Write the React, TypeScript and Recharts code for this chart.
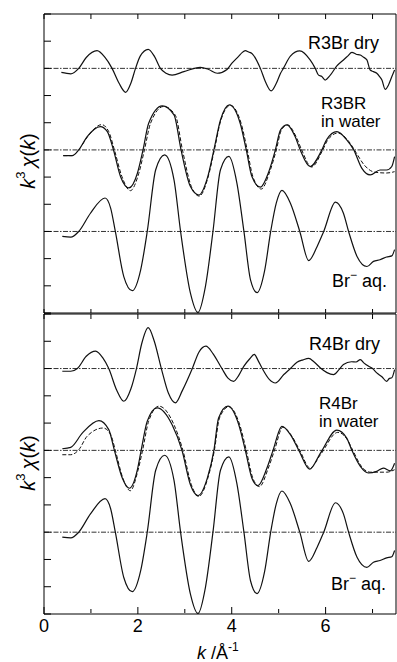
import React from 'react';
import { LineChart, Line, XAxis, YAxis, ReferenceLine } from 'recharts';

type Pt = [number, number];

// k axis ticks
const K_ALL = [0, 1, 2, 3, 4, 5, 6, 7];
const K_MAJOR = [0, 2, 4, 6];
const K_MINOR = [1, 3, 5, 7];
// y in tick units, curves stacked on offsets
const Y_TICKS = [0, 1, 2, 3, 4, 5, 6, 7, 8, 9, 10, 11];
const OFFSETS = [9, 6, 3];

// values read relative to each curve's own zero line, 1 = one tick interval
const r3BrDry: Pt[] = [
  [0.37, -0.15], [0.57, -0.2], [0.74, 0], [0.9, 0.4], [1.13, 0.65], [1.3, 0.4], [1.45, 0],
  [1.6, -0.55], [1.74, -0.88], [1.85, -0.55], [1.95, 0], [2.05, 0.45], [2.22, 0.7], [2.35, 0.45],
  [2.48, 0], [2.6, -0.18], [2.73, -0.25], [2.98, -0.12], [3.33, 0.04], [3.51, -0.04], [3.69, -0.18],
  [3.9, -0.04], [4.0, 0.18], [4.15, 0.45], [4.22, 0.58], [4.29, 0.65], [4.36, 0.6], [4.43, 0.55],
  [4.61, 0], [4.72, -0.5], [4.84, -0.83], [4.95, -0.55], [5.04, -0.18], [5.1, 0], [5.25, 0.45],
  [5.45, 0.64], [5.67, 0.31], [5.78, 0], [5.85, -0.25], [5.92, -0.3], [5.99, -0.43], [6.1, -0.25],
  [6.24, 0.09], [6.38, 0.31], [6.47, 0.45], [6.56, 0.59], [6.65, 0.52], [6.74, 0.49], [6.8, 0.42],
  [6.88, 0.31], [6.95, -0.06], [7.02, -0.12], [7.09, -0.18], [7.15, -0.3], [7.2, -0.43],
  [7.27, -0.77], [7.34, -0.61], [7.41, -0.31], [7.47, -0.06],
];

const r3BrWater: Pt[] = [
  [0.41, -0.21], [0.6, -0.21], [0.74, 0], [0.92, 0.49], [1.2, 0.86], [1.35, 0.67], [1.48, 0],
  [1.63, -0.98], [1.81, -1.4], [1.99, -0.86], [2.11, 0], [2.23, 0.98], [2.52, 1.62], [2.77, 1.29],
  [2.92, 0], [3.12, -1.35], [3.3, -1.66], [3.48, -1.04], [3.62, 0], [3.76, 1.1], [3.95, 1.66],
  [4.18, 0.98], [4.31, 0], [4.43, -0.98], [4.61, -1.37], [4.79, -0.8], [4.93, 0], [5.04, 0.74],
  [5.18, 0.92], [5.35, 0.49], [5.46, 0], [5.67, -0.61], [5.92, 0], [6.02, 0.37], [6.24, 0.67],
  [6.45, 0.37], [6.6, 0], [6.77, -0.67], [6.95, -0.92], [7.16, -0.74], [7.3, -0.74],
  [7.41, -0.61], [7.47, -0.25],
];

const r3BrFit: Pt[] = [
  [0.41, -0.21], [0.6, -0.21], [0.74, 0], [0.93, 0.49], [1.23, 0.93], [1.38, 0.67], [1.5, 0],
  [1.66, -0.98], [1.84, -1.5], [2.02, -0.86], [2.14, 0], [2.27, 0.98], [2.55, 1.6], [2.8, 1.27],
  [2.95, 0], [3.14, -1.35], [3.31, -1.7], [3.49, -1.04], [3.63, 0], [3.77, 1.1], [3.97, 1.64],
  [4.2, 0.98], [4.33, 0], [4.45, -0.98], [4.63, -1.44], [4.81, -0.8], [4.95, 0], [5.06, 0.74],
  [5.19, 0.92], [5.37, 0.49], [5.49, 0], [5.7, -0.63], [5.94, 0], [6.04, 0.35], [6.26, 0.62],
  [6.5, 0.3], [6.65, -0.1], [6.82, -0.55], [7.05, -0.82], [7.3, -0.85], [7.47, -0.8],
];

const brAq: Pt[] = [
  [0.39, -0.18], [0.57, -0.21], [0.74, 0], [0.99, 0.67], [1.3, 1.23], [1.42, 0.86], [1.52, 0],
  [1.7, -1.66], [1.88, -2.18], [2.06, -1.41], [2.2, 0], [2.38, 2.27], [2.57, 2.82], [2.77, 1.9],
  [2.91, 0], [3.12, -2.27], [3.28, -2.98], [3.44, -2.02], [3.6, 0], [3.76, 2.27], [3.94, 2.76],
  [4.11, 1.78], [4.26, 0], [4.4, -1.78], [4.54, -2.25], [4.7, -1.45], [4.83, 0], [4.95, 1.05],
  [5.07, 1.51], [5.25, 1.04], [5.45, 0], [5.64, -1.07], [5.82, -0.55], [5.96, 0], [6.21, 1.08],
  [6.38, 0.67], [6.49, 0], [6.67, -0.92], [6.88, -1.29], [7.02, -1.1], [7.16, -1.04],
  [7.3, -0.94], [7.41, -0.9], [7.47, -0.67],
];

const r4BrDry: Pt[] = [
  [0.39, -0.1], [0.57, -0.1], [0.71, 0], [0.9, 0.45], [1.1, 0.64], [1.25, 0.4], [1.38, 0],
  [1.55, -0.8], [1.7, -1.2], [1.85, -0.75], [1.97, 0], [2.08, 0.9], [2.22, 1.5], [2.35, 1.0],
  [2.5, 0], [2.65, -0.9], [2.8, -1.26], [2.95, -0.8], [3.16, 0], [3.3, 0.6], [3.45, 0.82],
  [3.6, 0.55], [3.79, 0], [3.92, -0.35], [4.04, -0.47], [4.15, -0.25], [4.26, 0.09], [4.38, 0.35],
  [4.48, 0.52], [4.56, 0.3], [4.65, 0], [4.8, -0.4], [4.93, -0.53], [5.11, -0.22], [5.25, 0],
  [5.39, 0.23], [5.52, 0.32], [5.64, 0.37], [5.75, 0.25], [5.89, 0.02], [6.03, -0.15],
  [6.17, -0.22], [6.28, -0.05], [6.38, 0.15], [6.55, 0.25], [6.65, 0.24], [6.74, 0.33],
  [6.82, 0.2], [6.91, 0.09], [7.0, 0.0], [7.09, -0.16], [7.2, -0.3], [7.3, -0.47], [7.36, -0.36],
  [7.41, -0.34], [7.47, -0.04],
];

const r4BrWater: Pt[] = [
  [0.39, 0.06], [0.57, 0.11], [0.82, 0.64], [1.17, 1.09], [1.38, 0.76], [1.5, 0], [1.67, -1.02],
  [1.82, -1.39], [1.99, -0.71], [2.07, 0], [2.2, 1.07], [2.41, 1.56], [2.73, 0.94], [2.94, 0],
  [3.12, -1.26], [3.28, -1.66], [3.48, -1.02], [3.62, 0], [3.72, 1.19], [3.92, 1.62], [4.15, 0.94],
  [4.29, 0], [4.43, -1.02], [4.56, -1.29], [4.75, -0.65], [4.88, 0], [5.07, 0.88], [5.25, 0.58],
  [5.43, 0], [5.66, -0.69], [5.89, -0.1], [6.24, 0.74], [6.45, 0.45], [6.56, 0], [6.74, -0.59],
  [6.91, -0.83], [7.09, -0.77], [7.23, -0.65], [7.38, -0.75], [7.47, -0.47],
];

const r4BrFit: Pt[] = [
  [0.39, -0.16], [0.57, -0.16], [0.74, 0.02], [0.92, 0.52], [1.26, 0.82], [1.42, 0.58], [1.52, 0],
  [1.68, -1.02], [1.84, -1.48], [2.0, -0.75], [2.1, 0], [2.23, 1.07], [2.45, 1.62], [2.77, 0.94],
  [2.96, 0], [3.14, -1.26], [3.3, -1.69], [3.49, -1.02], [3.63, 0], [3.74, 1.19], [3.94, 1.6],
  [4.17, 0.94], [4.31, 0], [4.45, -1.02], [4.59, -1.33], [4.78, -0.65], [4.91, 0], [5.09, 0.85],
  [5.27, 0.55], [5.45, 0], [5.67, -0.65], [5.89, -0.16], [6.26, 0.66], [6.46, 0.4], [6.58, 0],
  [6.76, -0.58], [6.95, -0.8], [7.3, -0.8], [7.47, -0.71],
];

const FONT = '"Liberation Sans", Arial, sans-serif';
const toRows = (pts: Pt[], off: number) => pts.map(([k, v]) => ({ k, v: v + off }));
// tick marks only, no tick text
const noText = () => <g />;

type PanelProps = { top: number; bottom: number; dry: Pt[]; water: Pt[]; fit: Pt[]; withLabels?: boolean };

function Panel({ top, bottom, dry, water, fit, withLabels }: PanelProps) {
  const lineProps = { xAxisId: 'b', yAxisId: 'l', dataKey: 'v', type: 'monotone' as const, dot: false, isAnimationActive: false, stroke: '#111', strokeWidth: 1.2 };
  const tl = { stroke: '#000' };
  return (
    <div style={{ position: 'absolute', left: 0, top: 0 }}>
      <LineChart width={397} height={662} margin={{ top, right: 1, bottom, left: 44 }}>
        <XAxis xAxisId="b" type="number" dataKey="k" domain={[0, 7.5]} allowDataOverflow ticks={withLabels ? K_MAJOR : K_ALL} interval={0}
          orientation="bottom" mirror height={1} tick={noText} tickLine={tl} tickSize={withLabels ? 7 : 4} stroke="#000" />
        {withLabels && (
          <XAxis xAxisId="bm" type="number" dataKey="k" domain={[0, 7.5]} allowDataOverflow ticks={K_MINOR} interval={0}
            orientation="bottom" mirror height={1} tick={noText} tickLine={tl} tickSize={4} axisLine={false} stroke="#000" />
        )}
        {withLabels && (
          <XAxis xAxisId="lab" type="number" dataKey="k" domain={[0, 7.5]} allowDataOverflow ticks={K_MAJOR} interval={0}
            orientation="bottom" height={30} axisLine={false} tickLine={false} tickSize={3} tickMargin={2}
            tick={{ fontSize: 18, fill: '#000', fontFamily: FONT }} />
        )}
        <XAxis xAxisId="t" type="number" dataKey="k" domain={[0, 7.5]} allowDataOverflow ticks={K_ALL} interval={0}
          orientation="top" mirror tick={noText} tickLine={tl} tickSize={5} stroke="#000" />
        <YAxis yAxisId="l" type="number" domain={[0, 11]} ticks={Y_TICKS} interval={0} orientation="left" mirror tick={noText} tickLine={tl} tickSize={7} stroke="#000" />
        <YAxis yAxisId="r" type="number" domain={[0, 11]} ticks={Y_TICKS} interval={0} orientation="right" mirror tick={noText} tickLine={tl} tickSize={6} stroke="#000" />
        {OFFSETS.map((o) => (
          <ReferenceLine key={o} xAxisId="b" yAxisId="l" y={o} stroke="#333" strokeWidth={1} strokeDasharray="5 1.5 1.5 1.5" />
        ))}
        <Line {...lineProps} data={toRows(dry, 9)} />
        <Line {...lineProps} data={toRows(fit, 6)} strokeDasharray="4 2" strokeWidth={1} />
        <Line {...lineProps} data={toRows(water, 6)} />
        <Line {...lineProps} data={toRows(brAq, 3)} />
      </LineChart>
    </div>
  );
}

function YLabel({ cy }: { cy: number }) {
  return (
    <text transform={`translate(28,${cy}) rotate(-90)`} textAnchor="middle" dominantBaseline="central" fontSize={20}>
      <tspan fontStyle="italic">k</tspan>
      <tspan dy={-8} fontSize={13}>3</tspan>
      <tspan dy={8} fontStyle="italic">{'\u2009χ'}</tspan>
      <tspan>(</tspan>
      <tspan fontStyle="italic">k</tspan>
      <tspan>)</tspan>
    </text>
  );
}

function BrAq({ x, y }: { x: number; y: number }) {
  return (
    <text x={x} y={y}>
      Br<tspan dy={-8} fontSize={12}>−</tspan><tspan dy={8}> aq.</tspan>
    </text>
  );
}

export default function App() {
  return (
    <div style={{ position: 'absolute', left: 0, top: 0, width: 397, height: 662, background: '#fff', fontFamily: FONT }}>
      <Panel top={14} bottom={349} dry={r3BrDry} water={r3BrWater} fit={r3BrFit} />
      <Panel top={314} bottom={18} dry={r4BrDry} water={r4BrWater} fit={r4BrFit} withLabels />
      <svg width={397} height={662} style={{ position: 'absolute', left: 0, top: 0, pointerEvents: 'none' }} fontFamily={FONT} fontSize={18} fill="#000">
        <text x={379} y={49} textAnchor="end">R3Br dry</text>
        <text x={321} y={109} fontSize={17}>R3BR</text>
        <text x={321} y={127} fontSize={17}>in water</text>
        <BrAq x={332} y={287} />
        <text x={380} y={350} textAnchor="end">R4Br dry</text>
        <text x={319} y={409} fontSize={17}>R4Br</text>
        <text x={319} y={427} fontSize={17}>in water</text>
        <BrAq x={331} y={590} />
        <YLabel cy={161} />
        <YLabel cy={463} />
        <text x={197} y={659}>
          <tspan fontStyle="italic">k</tspan> /Å<tspan dy={-8} fontSize={12}>-1</tspan>
        </text>
      </svg>
    </div>
  );
}
